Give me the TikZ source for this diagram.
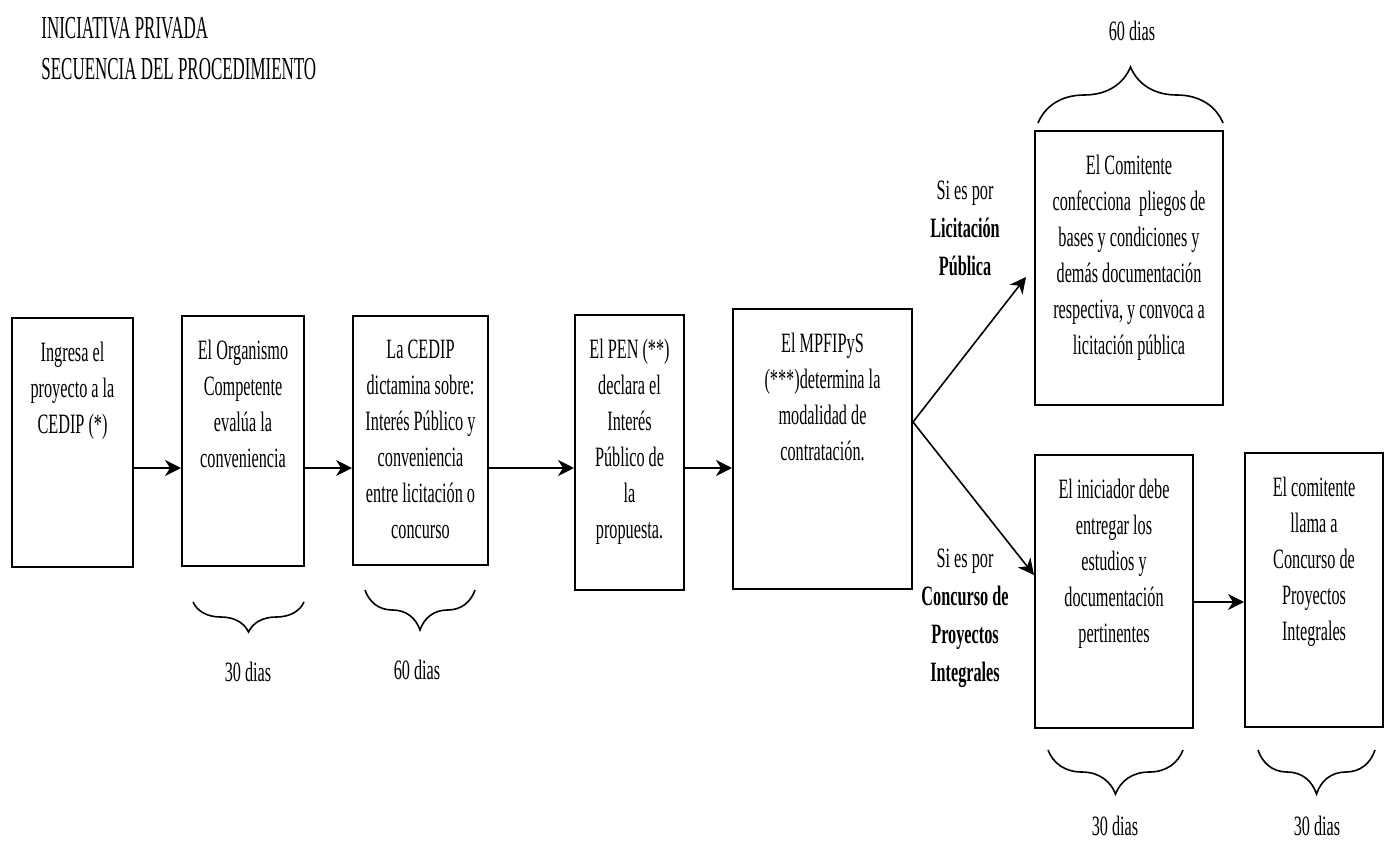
\documentclass[tikz,border=0pt]{standalone}
\usepackage{fontspec}
\setmainfont{Liberation Serif}[FakeStretch=0.58]
\newfontfamily\titlefont{Liberation Serif}[FakeStretch=0.53]
\usepackage{tikz}
\usetikzlibrary{arrows.meta,decorations.pathreplacing,calc}
\tikzstyle{box}=[draw,line width=1pt,inner sep=0pt]
\tikzstyle{boxtext}=[anchor=north,align=center,inner sep=0pt,yshift=-12.5pt,font=\fontsize{14}{18}\selectfont]
\tikzstyle{arr}=[draw,line width=0.8pt,-{Stealth[length=8pt,width=8pt,inset=2.5pt]}]
\tikzstyle{dias}=[inner sep=0pt,font=\fontsize{14}{18}\selectfont]
\tikzstyle{branch}=[align=center,inner sep=0pt,font=\fontsize{14}{19}\selectfont]
\tikzset{dbrace/.style={draw,line width=0.8pt,decorate,decoration={brace,amplitude=#1}}}

\begin{document}
\begin{tikzpicture}[x=0.5pt,y=-0.5pt]
   \useasboundingbox (0,0) rectangle (1384,846);

   \node[anchor=north west,align=left,inner sep=0pt,font=\titlefont\fontsize{16}{20.5}\selectfont] (title) at (41,17)
      {INICIATIVA PRIVADA\\SECUENCIA DEL PROCEDIMIENTO};

   % boxes of the procedure
   \foreach \pos/\name/\bw/\bh/\txt in {
        {(72.5,442.5)/b1/60.5/124.5/{Ingresa el\\proyecto a la\\CEDIP (*)}},
        {(243,441)/b2/61/125/{El Organismo\\Competente\\evalúa la\\conveniencia}},
        {(420.5,440.5)/b3/67.5/124.5/{La CEDIP\\dictamina sobre:\\Interés Público y\\conveniencia\\entre licitación o\\concurso}},
        {(629.5,452.5)/b4/54.5/137.5/{El PEN (**)\\declara el\\Interés\\Público de\\la\\propuesta.}},
        {(822.5,449)/b5/89.5/140/{El MPFIPyS\\(***)determina la\\modalidad de\\contratación.}},
        {(1129,268)/b6/94/137/{El Comitente\\confecciona\ \ pliegos de\\bases y condiciones y\\demás documentación\\respectiva, y convoca a\\licitación pública}},
        {(1114,591.5)/b7/79/136.5/{El iniciador debe\\entregar los\\estudios y\\documentación\\pertinentes}},
        {(1314,590)/b8/69/137/{El comitente\\llama a\\Concurso de\\Proyectos\\Integrales}}}
        \node[box,minimum width=\bw pt,minimum height=\bh pt,
              label={[boxtext,name=\name t]north:{\txt}}] (\name) at \pos {};

   % main sequence
   \foreach \source/ \dest in {b1/b2,b2/b3,b3/b4,b4/b5}
        \path[arr] (\source.east |- 0,468) -- (\dest.west |- 0,468);
   \path[arr] (b7.east |- 0,602) -- (b8.west |- 0,602);

   % the two modalities
   \coordinate (fork) at (b5.east |- 0,422);
   \path[arr] (fork) -- ([xshift=-4pt]b6.west |- 0,277);
   \path[arr] (fork) -- (b7.west |- 0,575);
   \node[branch] (lic) at (965,228) {Si es por\\\textbf{Licitación}\\\textbf{Pública}};
   \node[branch] (con) at (965,618) {Si es por\\\textbf{Concurso de}\\\textbf{Proyectos}\\\textbf{Integrales}};

   % terms
   \path[dbrace=15pt] (304,602) -- (193,602);
   \node[dias] (d2) at (248,672) {30 dias};
   \path[dbrace=20pt] (475,590) -- (365,590);
   \node[dias] (d3) at (417,670) {60 dias};
   \path[dbrace=28pt] (1038,123) -- (1223,123);
   \node[dias] (d6) at (1132,31) {60 dias};
   \path[dbrace=22pt] (1183,750) -- (1048,750);
   \node[dias,anchor=north] (d7) at (1115,816) {30 dias};
   \path[dbrace=22pt] (1375,750) -- (1258,750);
   \node[dias,anchor=north] (d8) at (1317,816) {30 dias};

\end{tikzpicture}
\end{document}
